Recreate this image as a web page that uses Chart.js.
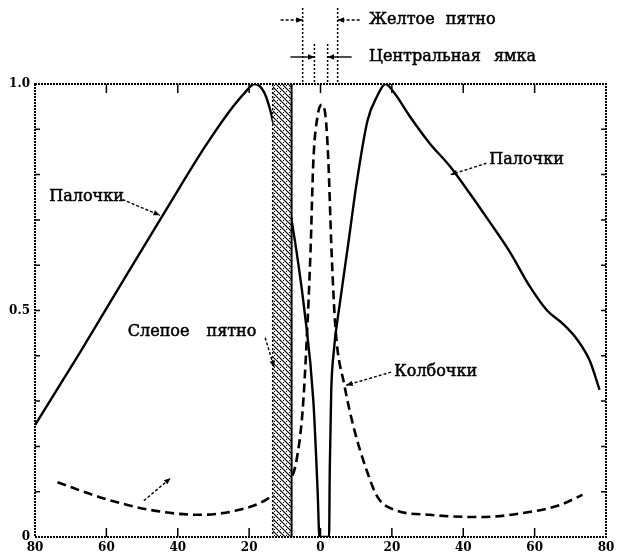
<!DOCTYPE html>
<html>
<head>
<meta charset="utf-8">
<script src="https://cdn.jsdelivr.net/npm/chart.js@4.4.1/dist/chart.umd.min.js"></script>
<style>
  html, body { margin: 0; padding: 0; background: #fff; }
  #chart { display: block; }
</style>
</head>
<body>
<canvas id="chart" width="621" height="560"></canvas>
<script>
// eccentricity in degrees (temporal negative, nasal positive) -> relative density
const rodAngles = [-80, -67.5, -55, -42.3, -32.5, -25.5, -21.3, -18.5, -15.7, -13.7, -8.1, -4.5, -2.0, -0.8, -0.3,
                   2.4, 2.6, 3.0, 3.6, 5.5, 8.0, 10.1, 13.2, 16.0, 18.2, 20.7, 24.9, 30.5, 36.1, 41.7, 47.0, 53.0, 58.5, 63.5, 68.0, 72.0, 75.4, 78.2];
const rodValues = [0.247, 0.406, 0.57, 0.735, 0.86, 0.94, 0.98, 1.0, 0.98, 0.93, 0.7, 0.5, 0.3, 0.1, 0,
                   0, 0.15, 0.32, 0.40, 0.52, 0.66, 0.78, 0.92, 0.975, 1.0, 0.98, 0.93, 0.87, 0.82, 0.76, 0.70, 0.63, 0.555, 0.50, 0.47, 0.435, 0.39, 0.325];

const coneAngles = [-73.7, -61.9, -47.9, -33.9, -22.7, -15.7, -12.3, -7.8, -6.7, -5.0, -3.9, -2.8, -2.0, -0.8, 0.3,
                    1.4, 2.2, 3.1, 4.2, 6.7, 9.5, 12.9, 16.0, 20.7, 30.5, 44.5, 58.5, 66.9, 73.4];
const coneValues = [0.121, 0.088, 0.06, 0.049, 0.06, 0.08, 0.10, 0.137, 0.17, 0.28, 0.43, 0.63, 0.83, 0.93, 0.954,
                    0.93, 0.83, 0.63, 0.46, 0.335, 0.236, 0.148, 0.088, 0.06, 0.049, 0.044, 0.055, 0.07, 0.093];

const xTicks = [-80, -60, -40, -20, 0, 20, 40, 60, 80];

const blindSpot = [-13.4, -8.1];
const macula = [-5, 4.8];
const fovea = [-1.7, 2.0];

const serif = '"DejaVu Serif", "Liberation Serif", serif';

function toPoints(xs, ys) {
    return xs.map((x, i) => ({ x: x, y: ys[i] }));
}

function makeHatch() {
    const c = document.createElement('canvas');
    c.width = 6; c.height = 6;
    const g = c.getContext('2d');
    g.fillStyle = '#fff';
    g.fillRect(0, 0, 6, 6);
    g.strokeStyle = '#000';
    g.lineWidth = 1.2;
    g.beginPath();
    g.moveTo(0, 0); g.lineTo(6, 6);
    g.moveTo(-3, 3); g.lineTo(3, 9);
    g.moveTo(3, -3); g.lineTo(9, 3);
    g.stroke();
    g.fillStyle = '#000';
    g.fillRect(4, 1, 1, 1);
    g.fillRect(1, 4, 1, 1);
    return c;
}

function arrow(ctx, x1, y1, x2, y2, dashed) {
    ctx.save();
    ctx.strokeStyle = '#000';
    ctx.fillStyle = '#000';
    ctx.lineWidth = 1.4;
    if (dashed) ctx.setLineDash([3, 2]);
    ctx.beginPath();
    ctx.moveTo(x1, y1);
    ctx.lineTo(x2, y2);
    ctx.stroke();
    ctx.setLineDash([]);
    const a = Math.atan2(y2 - y1, x2 - x1);
    ctx.beginPath();
    ctx.moveTo(x2, y2);
    ctx.lineTo(x2 - 7 * Math.cos(a - 0.4), y2 - 7 * Math.sin(a - 0.4));
    ctx.lineTo(x2 - 7 * Math.cos(a + 0.4), y2 - 7 * Math.sin(a + 0.4));
    ctx.closePath();
    ctx.fill();
    ctx.restore();
}

function label(ctx, text, x, y, spacing) {
    ctx.save();
    ctx.wordSpacing = (spacing || 0) + 'px';
    ctx.fillText(text, x, y);
    ctx.lineWidth = 0.5;
    ctx.strokeStyle = '#000';
    ctx.strokeText(text, x, y);
    ctx.restore();
}

const decorPlugin = {
    id: 'decor',
    afterDatasetsDraw(chart) {
        const ctx = chart.ctx;
        const xs = chart.scales.x;
        const area = chart.chartArea;

        // blind spot band
        const bx1 = xs.getPixelForValue(blindSpot[0]);
        const bx2 = xs.getPixelForValue(blindSpot[1]);
        ctx.save();
        ctx.fillStyle = ctx.createPattern(makeHatch(), 'repeat');
        ctx.fillRect(bx1, area.top, bx2 - bx1, area.bottom - area.top);
        ctx.strokeStyle = '#000';
        ctx.lineWidth = 1.5;
        ctx.setLineDash([2, 2]);
        ctx.beginPath();
        ctx.moveTo(bx1, area.top); ctx.lineTo(bx1, area.bottom);
        ctx.stroke();
        ctx.setLineDash([]);
        ctx.lineWidth = 2;
        ctx.beginPath();
        ctx.moveTo(bx2, area.top); ctx.lineTo(bx2, area.bottom);
        ctx.stroke();
        ctx.restore();
    },
    afterDraw(chart) {
        const ctx = chart.ctx;
        const xs = chart.scales.x, ys = chart.scales.y;
        const area = chart.chartArea;
        const px = v => xs.getPixelForValue(v);
        const py = v => ys.getPixelForValue(v);

        ctx.save();
        // frame
        ctx.strokeStyle = '#000';
        ctx.lineWidth = 2;
        ctx.setLineDash([2, 1]);
        ctx.strokeRect(area.left, area.top, area.right - area.left, area.bottom - area.top);
        ctx.setLineDash([]);

        // inward ticks
        ctx.lineWidth = 1.5;
        xs.ticks.forEach(t => {
            if (t.value === -80 || t.value === 80) return;
            const x = px(t.value);
            ctx.beginPath();
            ctx.moveTo(x, area.bottom); ctx.lineTo(x, area.bottom - 9);
            ctx.moveTo(x, area.top); ctx.lineTo(x, area.top + 9);
            ctx.stroke();
        });
        ys.ticks.forEach(t => {
            if (t.value <= 0 || t.value >= 1) return;
            const y = py(t.value);
            ctx.beginPath();
            ctx.moveTo(area.left, y); ctx.lineTo(area.left + 5, y);
            ctx.moveTo(area.right, y); ctx.lineTo(area.right - 5, y);
            ctx.stroke();
        });

        // macula & fovea markers above the frame
        ctx.setLineDash([2, 2]);
        macula.forEach(v => {
            ctx.beginPath();
            ctx.moveTo(px(v), 8); ctx.lineTo(px(v), area.top);
            ctx.stroke();
        });
        fovea.forEach(v => {
            ctx.beginPath();
            ctx.moveTo(px(v), 44); ctx.lineTo(px(v), area.top);
            ctx.stroke();
        });
        ctx.setLineDash([]);
        ctx.restore();

        const yMac = 20, yFov = 57;
        arrow(ctx, px(macula[0]) - 22, yMac, px(macula[0]), yMac, true);
        arrow(ctx, px(macula[1]) + 22, yMac, px(macula[1]), yMac, true);
        arrow(ctx, px(fovea[0]) - 24, yFov, px(fovea[0]), yFov, false);
        arrow(ctx, px(fovea[1]) + 24, yFov, px(fovea[1]), yFov, false);

        ctx.save();
        ctx.fillStyle = '#000';
        ctx.font = '16px ' + serif;
        ctx.textBaseline = 'middle';
        ctx.textAlign = 'left';
        label(ctx, 'Желтое пятно', px(13.6), yMac, 6);
        label(ctx, 'Центральная ямка', px(13.6), yFov, 8);

        label(ctx, 'Палочки', px(-76), py(0.75), 0);
        label(ctx, 'Палочки', px(47.3), py(0.832), 0);
        label(ctx, 'Слепое пятно', px(-54), py(0.453), 12);
        label(ctx, 'Колбочки', px(20.7), py(0.364), 0);
        ctx.restore();

        arrow(ctx, px(-55.5), py(0.745), px(-45), py(0.71), true);
        arrow(ctx, px(46.5), py(0.825), px(36.5), py(0.80), true);
        arrow(ctx, px(-15.5), py(0.44), px(-13), py(0.375), true);
        arrow(ctx, px(19.8), py(0.364), px(7.2), py(0.335), true);
        arrow(ctx, px(-49.5), py(0.08), px(-42), py(0.13), true);
    }
};

new Chart(document.getElementById('chart'), {
    type: 'line',
    data: {
        datasets: [
            {
                label: 'Палочки',
                data: toPoints(rodAngles, rodValues),
                borderColor: '#000',
                borderWidth: 2.4,
                pointRadius: 0,
                fill: false,
                cubicInterpolationMode: 'monotone'
            },
            {
                label: 'Колбочки',
                data: toPoints(coneAngles, coneValues),
                borderColor: '#000',
                borderWidth: 2.6,
                borderDash: [9, 5],
                pointRadius: 0,
                fill: false,
                cubicInterpolationMode: 'monotone'
            }
        ]
    },
    options: {
        responsive: false,
        devicePixelRatio: 1,
        animation: false,
        layout: { padding: { top: 84, right: 15, left: 0, bottom: 0 } },
        plugins: {
            legend: { display: false },
            tooltip: { enabled: false }
        },
        scales: {
            x: {
                type: 'linear',
                min: -80,
                max: 80,
                afterFit: s => { s.height = 23; },
                afterBuildTicks: s => { s.ticks = xTicks.map(v => ({ value: v })); },
                grid: { display: false, drawTicks: false },
                border: { display: false },
                ticks: {
                    color: '#000',
                    padding: 4,
                    maxRotation: 0,
                    font: { family: serif, size: 12, weight: 'bold' },
                    callback: v => String(Math.abs(v))
                }
            },
            y: {
                min: 0,
                max: 1,
                afterFit: s => { s.width = 35; },
                grid: { display: false, drawTicks: false },
                border: { display: false },
                ticks: {
                    color: '#000',
                    padding: 5,
                    stepSize: 0.1,
                    autoSkip: false,
                    font: { family: serif, size: 12, weight: 'bold' },
                    callback: v => {
                        const r = Math.round(v * 10) / 10;
                        if (r === 0) return '0';
                        if (r === 0.5) return '0.5';
                        if (r === 1) return '1.0';
                        return '';
                    }
                }
            }
        }
    },
    plugins: [decorPlugin]
});
</script>
</body>
</html>
